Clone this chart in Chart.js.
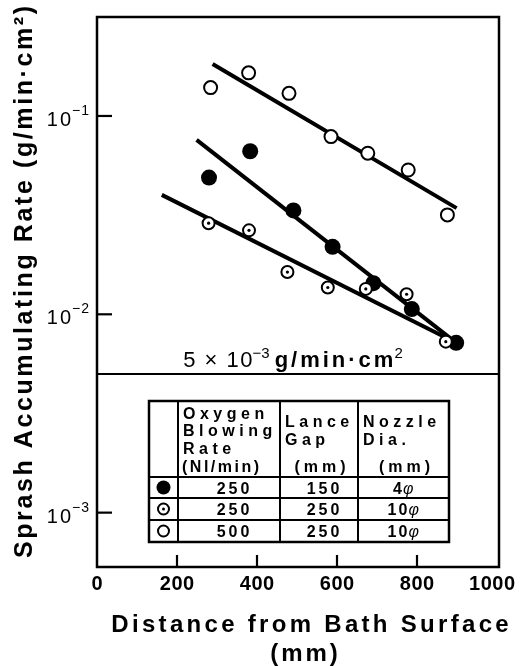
<!DOCTYPE html>
<html>
<head>
<meta charset="utf-8">
<script src="https://cdn.jsdelivr.net/npm/chart.js@4.4.1/dist/chart.umd.min.js"></script>
<style>
  html, body { margin: 0; padding: 0; background: #fff; }
</style>
</head>
<body>
<canvas id="splash" width="527" height="666"></canvas>
<script>
// distance from bath surface (mm) vs. sprash accumulating rate (g/min·cm2)
const filledX = [280, 383, 491, 589, 691, 787, 898];
const filledY = [0.0489, 0.0664, 0.0334, 0.0219, 0.01435, 0.01062, 0.00718];
const dottedX = [279, 380, 476, 577, 672, 774, 872];
const dottedY = [0.0288, 0.0265, 0.01633, 0.01365, 0.01343, 0.01262, 0.00728];
const openX = [284, 379, 480, 585, 677, 778, 876];
const openY = [0.139, 0.165, 0.130, 0.0787, 0.0649, 0.0534, 0.0317];

// end points of the fitted lines
const filledFitX = [249, 899];
const filledFitY = [0.0757, 0.00716];
const dottedFitX = [162, 899];
const dottedFitY = [0.0400, 0.00716];
const openFitX = [289, 899];
const openFitY = [0.183, 0.0343];

const xTicks = [0, 200, 400, 600, 800, 1000];
const yTicks = [1e-1, 1e-2, 1e-3];
const yTickExp = ['−1', '−2', '−3'];
const limitRate = 0.005;

const tableHead = [
  ['Oxygen', 'Blowing', 'Rate', '(Nl/min)'],
  ['Lance', 'Gap', '', '(mm)'],
  ['Nozzle', 'Dia.', '', '(mm)']
];
const tableRows = [['250', '150', '4'], ['250', '250', '10'], ['500', '250', '10']];
const tableMarks = ['filled', 'dotted', 'open'];

const SANS = '"Liberation Sans", Arial, sans-serif';

function pts(xs, ys) {
  return xs.map((x, i) => ({ x: x, y: ys[i] }));
}

// draw text char by char so the wide spacing works everywhere
function spacedWidth(ctx, text, spacing) {
  const chars = [...text];
  return chars.reduce((a, c) => a + ctx.measureText(c).width, 0) + spacing * (chars.length - 1);
}

function drawSpaced(ctx, text, x, y, spacing, align) {
  const total = spacedWidth(ctx, text, spacing);
  let start = x;
  if (align === 'center') start = x - total / 2;
  if (align === 'right') start = x - total;
  ctx.textAlign = 'left';
  [...text].forEach(c => {
    ctx.fillText(c, start, y);
    start += ctx.measureText(c).width + spacing;
  });
  return total;
}

function drawMark(ctx, kind, x, y) {
  ctx.lineWidth = 2;
  ctx.strokeStyle = '#000';
  ctx.beginPath();
  if (kind === 'filled') {
    ctx.arc(x, y, 7, 0, Math.PI * 2);
    ctx.fillStyle = '#000';
    ctx.fill();
    return;
  }
  ctx.arc(x, y, 5.5, 0, Math.PI * 2);
  ctx.fillStyle = '#fff';
  ctx.fill();
  ctx.stroke();
  if (kind === 'dotted') {
    ctx.beginPath();
    ctx.arc(x, y, 1.5, 0, Math.PI * 2);
    ctx.fillStyle = '#000';
    ctx.fill();
  }
}

const decorations = {
  id: 'decorations',
  afterDraw(chart) {
    const ctx = chart.ctx;
    const area = chart.chartArea;
    const xs = chart.scales.x;
    const ys = chart.scales.y;
    ctx.save();
    ctx.fillStyle = '#000';
    ctx.strokeStyle = '#000';
    ctx.textBaseline = 'alphabetic';

    // frame
    ctx.lineWidth = 2.5;
    ctx.strokeRect(area.left, area.top, area.right - area.left, area.bottom - area.top);

    // inward ticks
    ctx.lineWidth = 2.2;
    xTicks.forEach(v => {
      if (v === 0 || v === 1000) return;
      const px = xs.getPixelForValue(v);
      ctx.beginPath();
      ctx.moveTo(px, area.bottom);
      ctx.lineTo(px, area.bottom - 12);
      ctx.stroke();
    });
    yTicks.forEach(v => {
      const py = ys.getPixelForValue(v);
      ctx.beginPath();
      ctx.moveTo(area.left, py);
      ctx.lineTo(area.left + 15, py);
      ctx.stroke();
    });

    // x tick labels
    ctx.font = 'bold 20px ' + SANS;
    xTicks.forEach(v => {
      const txt = String(v);
      const w = spacedWidth(ctx, txt, 0.5);
      const px = Math.min(xs.getPixelForValue(v), chart.width - 12 - w / 2);
      drawSpaced(ctx, txt, px, 590, 0.5, 'center');
    });

    // y tick labels: 10 with a raised exponent
    yTicks.forEach((v, i) => {
      const py = ys.getPixelForValue(v);
      ctx.font = '14px ' + SANS;
      const ew = drawSpaced(ctx, yTickExp[i], 89, py - 1, 1, 'right');
      ctx.font = '20px ' + SANS;
      drawSpaced(ctx, '10', 88 - ew, py + 10, 2, 'right');
    });

    // 5 x 10^-3 limit line and label
    const ly = ys.getPixelForValue(limitRate);
    ctx.lineWidth = 2;
    ctx.beginPath();
    ctx.moveTo(area.left, ly);
    ctx.lineTo(area.right, ly);
    ctx.stroke();
    const parts = [
      ['5 × 10', '22px', 0, 1.5, 0], ['−3', '15px', -9, 0, 5],
      ['g/min·cm', 'bold 22px', 0, 3, 1], ['2', '15px', -9, 0, 0]
    ];
    let total = 0;
    parts.forEach(p => { ctx.font = p[1] + ' ' + SANS; total += spacedWidth(ctx, p[0], p[3]) + p[4]; });
    let cx = 293 - total / 2;
    parts.forEach(p => {
      ctx.font = p[1] + ' ' + SANS;
      cx += drawSpaced(ctx, p[0], cx, 367 + p[2], p[3], 'left') + p[4];
    });

    // legend table
    const colX = [149, 178, 280, 358, 449];
    const rowY = [401, 477, 498, 520, 542];
    ctx.lineWidth = 2;
    colX.forEach(x => {
      ctx.beginPath(); ctx.moveTo(x, rowY[0]); ctx.lineTo(x, rowY[4]); ctx.stroke();
    });
    rowY.forEach(y => {
      ctx.beginPath(); ctx.moveTo(colX[0], y); ctx.lineTo(colX[4], y); ctx.stroke();
    });
    ctx.lineWidth = 2.5;
    ctx.strokeRect(colX[0], rowY[0], colX[4] - colX[0], rowY[4] - rowY[0]);

    ctx.fillStyle = '#000';
    const headBase = [[419, 436, 454, 472], [427, 445, 0, 472], [427, 445, 0, 472]];
    tableHead.forEach((lines, c) => {
      lines.forEach((t, r) => {
        if (!t) return;
        ctx.font = 'bold 16px ' + SANS;
        if (t === '(mm)') {
          drawSpaced(ctx, t, (colX[c + 1] + colX[c + 2]) / 2 + 1, headBase[c][r], 4, 'center');
        } else if (t.startsWith('(')) {
          drawSpaced(ctx, t, colX[c + 1] + 4, headBase[c][r], 2.5, 'left');
        } else {
          drawSpaced(ctx, t, colX[c + 1] + 5, headBase[c][r], 4.5, 'left');
        }
      });
    });

    const rowMid = [487.5, 509, 531];
    tableRows.forEach((row, r) => {
      drawMark(ctx, tableMarks[r], (colX[0] + colX[1]) / 2, rowMid[r]);
      row.forEach((t, c) => {
        const mid = (colX[c + 1] + colX[c + 2]) / 2;
        ctx.fillStyle = '#000';
        ctx.font = 'bold 16px ' + SANS;
        if (c === 2) {
          const w = drawSpaced(ctx, t, mid - 6, rowMid[r] + 6, 2, 'center');
          ctx.font = 'italic 16px ' + SANS;
          ctx.textAlign = 'left';
          ctx.fillText('φ', mid - 6 + w / 2 + 1, rowMid[r] + 6);
        } else {
          drawSpaced(ctx, t, mid + 4, rowMid[r] + 6, 3, 'center');
        }
      });
    });

    // axis titles
    ctx.fillStyle = '#000';
    ctx.font = 'bold 24px ' + SANS;
    drawSpaced(ctx, 'Distance from Bath Surface', 310, 632, 3.3, 'center');
    drawSpaced(ctx, '(mm)', 304, 661, 3, 'center');

    ctx.translate(32, 282);
    ctx.rotate(-Math.PI / 2);
    ctx.font = 'bold 25px ' + SANS;
    drawSpaced(ctx, 'Sprash Accumulating Rate (g/min·cm²)', 0, 0, 2.6, 'center');

    ctx.restore();
  }
};

const ring = { borderColor: '#000', backgroundColor: '#fff', borderWidth: 2, pointRadius: 6.5, showLine: false };
const fit = { borderColor: '#000', borderWidth: 4, pointRadius: 0, showLine: true, fill: false, order: 10 };

new Chart(document.getElementById('splash'), {
  type: 'scatter',
  data: {
    datasets: [
      Object.assign({ label: 'fit 250/150/4', data: pts(filledFitX, filledFitY) }, fit),
      Object.assign({ label: 'fit 250/250/10', data: pts(dottedFitX, dottedFitY) }, fit),
      Object.assign({ label: 'fit 500/250/10', data: pts(openFitX, openFitY) }, fit),
      { label: '250/150/4', data: pts(filledX, filledY), backgroundColor: '#000', borderColor: '#000',
        borderWidth: 0, pointRadius: 8, showLine: false, order: 4 },
      Object.assign({ label: '250/250/10', data: pts(dottedX, dottedY), order: 3 }, ring, { pointRadius: 6 }),
      { label: '250/250/10 centre', data: pts(dottedX, dottedY), backgroundColor: '#000', borderWidth: 0,
        pointRadius: 1.6, showLine: false, order: 2 },
      Object.assign({ label: '500/250/10', data: pts(openX, openY), order: 3 }, ring)
    ]
  },
  options: {
    responsive: false,
    animation: false,
    devicePixelRatio: 1,
    layout: { padding: { left: 97, right: 28, top: 17, bottom: 99 } },
    plugins: { legend: { display: false }, tooltip: { enabled: false } },
    elements: { line: { tension: 0 } },
    scales: {
      x: { type: 'linear', min: 0, max: 1005, display: false },
      y: { type: 'logarithmic', min: 5.32e-4, max: 0.3155, display: false }
    }
  },
  plugins: [decorations]
});
</script>
</body>
</html>
